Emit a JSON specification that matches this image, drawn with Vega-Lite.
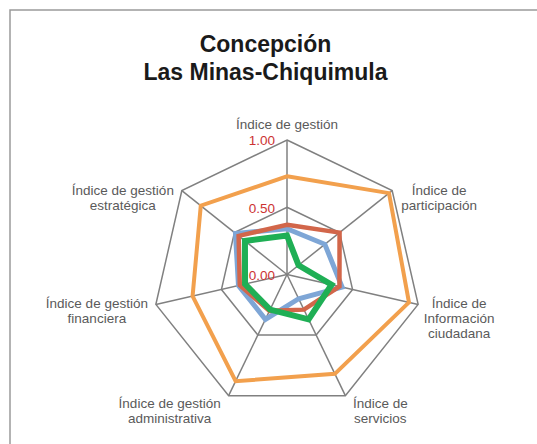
{
  "$schema": "https://vega.github.io/schema/vega-lite/v6.json",
  "width": 537,
  "height": 444,
  "autosize": {"type": "none"},
  "padding": {"left": 10, "top": 10, "right": 0, "bottom": 0},
  "background": "white",
  "config": {"view": {"stroke": "#9a9a9a", "strokeWidth": 1.5}},
  "title": {
    "text": ["Concepción", "Las Minas-Chiquimula"],
    "font": "Liberation Sans",
    "fontSize": 23,
    "fontWeight": "bold",
    "color": "#1a1a1a",
    "anchor": "middle",
    "frame": "group",
    "baseline": "top",
    "offset": -75,
    "dx": -13,
    "lineHeight": 28
  },
  "datasets": {
    "series": [
      {"serie": "Serie 2", "indicador": "Índice de gestión", "valor": 0.34},
      {"serie": "Serie 2", "indicador": "Índice de participación", "valor": 0.36},
      {"serie": "Serie 2", "indicador": "Índice de Información ciudadana", "valor": 0.42},
      {"serie": "Serie 2", "indicador": "Índice de servicios", "valor": 0.20},
      {"serie": "Serie 2", "indicador": "Índice de gestión administrativa", "valor": 0.37},
      {"serie": "Serie 2", "indicador": "Índice de gestión financiera", "valor": 0.37},
      {"serie": "Serie 2", "indicador": "Índice de gestión estratégica", "valor": 0.49},
      {"serie": "Serie 3", "indicador": "Índice de gestión", "valor": 0.37},
      {"serie": "Serie 3", "indicador": "Índice de participación", "valor": 0.50},
      {"serie": "Serie 3", "indicador": "Índice de Información ciudadana", "valor": 0.40},
      {"serie": "Serie 3", "indicador": "Índice de servicios", "valor": 0.29},
      {"serie": "Serie 3", "indicador": "Índice de gestión administrativa", "valor": 0.30},
      {"serie": "Serie 3", "indicador": "Índice de gestión financiera", "valor": 0.36},
      {"serie": "Serie 3", "indicador": "Índice de gestión estratégica", "valor": 0.46},
      {"serie": "Serie 1", "indicador": "Índice de gestión", "valor": 0.73},
      {"serie": "Serie 1", "indicador": "Índice de participación", "valor": 0.97},
      {"serie": "Serie 1", "indicador": "Índice de Información ciudadana", "valor": 0.93},
      {"serie": "Serie 1", "indicador": "Índice de servicios", "valor": 0.82},
      {"serie": "Serie 1", "indicador": "Índice de gestión administrativa", "valor": 0.88},
      {"serie": "Serie 1", "indicador": "Índice de gestión financiera", "valor": 0.72},
      {"serie": "Serie 1", "indicador": "Índice de gestión estratégica", "valor": 0.82},
      {"serie": "Serie 4", "indicador": "Índice de gestión", "valor": 0.29},
      {"serie": "Serie 4", "indicador": "Índice de participación", "valor": 0.11},
      {"serie": "Serie 4", "indicador": "Índice de Información ciudadana", "valor": 0.34},
      {"serie": "Serie 4", "indicador": "Índice de servicios", "valor": 0.37},
      {"serie": "Serie 4", "indicador": "Índice de gestión administrativa", "valor": 0.29},
      {"serie": "Serie 4", "indicador": "Índice de gestión financiera", "valor": 0.32},
      {"serie": "Serie 4", "indicador": "Índice de gestión estratégica", "valor": 0.40}
    ],
    "ejes": [
      {"indicador": "Índice de gestión", "etiqueta": "Índice de gestión"},
      {"indicador": "Índice de participación", "etiqueta": "Índice de\nparticipación"},
      {"indicador": "Índice de Información ciudadana", "etiqueta": "Índice de\nInformación\nciudadana"},
      {"indicador": "Índice de servicios", "etiqueta": "Índice de\nservicios"},
      {"indicador": "Índice de gestión administrativa", "etiqueta": "Índice de gestión\nadministrativa"},
      {"indicador": "Índice de gestión financiera", "etiqueta": "Índice de gestión\nfinanciera"},
      {"indicador": "Índice de gestión estratégica", "etiqueta": "Índice de gestión\nestratégica"}
    ],
    "anillos": [
      {"nivel": 0.5, "indicador": "Índice de gestión"},
      {"nivel": 0.5, "indicador": "Índice de participación"},
      {"nivel": 0.5, "indicador": "Índice de Información ciudadana"},
      {"nivel": 0.5, "indicador": "Índice de servicios"},
      {"nivel": 0.5, "indicador": "Índice de gestión administrativa"},
      {"nivel": 0.5, "indicador": "Índice de gestión financiera"},
      {"nivel": 0.5, "indicador": "Índice de gestión estratégica"},
      {"nivel": 1, "indicador": "Índice de gestión"},
      {"nivel": 1, "indicador": "Índice de participación"},
      {"nivel": 1, "indicador": "Índice de Información ciudadana"},
      {"nivel": 1, "indicador": "Índice de servicios"},
      {"nivel": 1, "indicador": "Índice de gestión administrativa"},
      {"nivel": 1, "indicador": "Índice de gestión financiera"},
      {"nivel": 1, "indicador": "Índice de gestión estratégica"}
    ],
    "niveles": [{"nivel": 0}, {"nivel": 0.5}, {"nivel": 1}]
  },
  "layer": [
    {
      "data": {"name": "anillos"},
      "transform": [
        {"calculate": "indexof(['Índice de gestión','Índice de participación','Índice de Información ciudadana','Índice de servicios','Índice de gestión administrativa','Índice de gestión financiera','Índice de gestión estratégica'], datum.indicador)", "as": "k"},
        {"calculate": "datum.nivel*sin(datum.k*2*PI/7)", "as": "px"},
        {"calculate": "datum.nivel*cos(datum.k*2*PI/7)", "as": "py"}
      ],
      "mark": {"type": "line", "interpolate": "linear-closed", "stroke": "#808080", "strokeWidth": 1.5},
      "encoding": {
        "x": {"field": "px", "type": "quantitative", "axis": null, "scale": {"domain": [-2.0595, 1.9331], "nice": false, "zero": false}},
        "y": {"field": "py", "type": "quantitative", "axis": null, "scale": {"domain": [-1.3346, 1.9665], "nice": false, "zero": false}},
        "detail": {"field": "nivel", "type": "nominal"},
        "order": {"field": "k", "type": "quantitative"}
      }
    },
    {
      "data": {"name": "ejes"},
      "transform": [
        {"calculate": "indexof(['Índice de gestión','Índice de participación','Índice de Información ciudadana','Índice de servicios','Índice de gestión administrativa','Índice de gestión financiera','Índice de gestión estratégica'], datum.indicador)", "as": "k"},
        {"calculate": "sin(datum.k*2*PI/7)", "as": "vx"},
        {"calculate": "cos(datum.k*2*PI/7)", "as": "vy"}
      ],
      "mark": {"type": "rule", "stroke": "#808080", "strokeWidth": 1.5},
      "encoding": {
        "x": {"field": "vx", "type": "quantitative", "axis": null, "scale": {"domain": [-2.0595, 1.9331], "nice": false, "zero": false}},
        "y": {"field": "vy", "type": "quantitative", "axis": null, "scale": {"domain": [-1.3346, 1.9665], "nice": false, "zero": false}},
        "x2": {"datum": 0},
        "y2": {"datum": 0}
      }
    },
    {
      "data": {"name": "series"},
      "transform": [
        {"calculate": "indexof(['Índice de gestión','Índice de participación','Índice de Información ciudadana','Índice de servicios','Índice de gestión administrativa','Índice de gestión financiera','Índice de gestión estratégica'], datum.indicador)", "as": "k"},
        {"calculate": "datum.valor*sin(datum.k*2*PI/7)", "as": "px"},
        {"calculate": "datum.valor*cos(datum.k*2*PI/7)", "as": "py"}
      ],
      "mark": {"type": "line", "interpolate": "linear-closed"},
      "encoding": {
        "x": {"field": "px", "type": "quantitative", "axis": null, "scale": {"domain": [-2.0595, 1.9331], "nice": false, "zero": false}},
        "y": {"field": "py", "type": "quantitative", "axis": null, "scale": {"domain": [-1.3346, 1.9665], "nice": false, "zero": false}},
        "color": {"field": "serie", "type": "nominal", "legend": null, "scale": {"domain": ["Serie 2", "Serie 3", "Serie 1", "Serie 4"], "range": ["#7EA6D6", "#D2664A", "#F2A04D", "#1FAF55"]}},
        "strokeWidth": {"field": "serie", "type": "ordinal", "legend": null, "scale": {"type": "ordinal", "domain": ["Serie 2", "Serie 3", "Serie 1", "Serie 4"], "range": [5, 4.5, 4, 6]}},
        "order": {"field": "k", "type": "quantitative"}
      }
    },
    {
      "data": {"name": "niveles"},
      "mark": {"type": "text", "align": "right", "baseline": "middle", "dx": -12, "dy": 1.5, "font": "Liberation Sans", "fontSize": 13.5, "color": "#cc3333"},
      "encoding": {
        "x": {"datum": 0, "type": "quantitative", "scale": {"domain": [-2.0595, 1.9331], "nice": false, "zero": false}},
        "y": {"field": "nivel", "type": "quantitative", "scale": {"domain": [-1.3346, 1.9665], "nice": false, "zero": false}},
        "text": {"field": "nivel", "type": "quantitative", "format": ".2f"}
      }
    },
    {
      "data": {"name": "ejes"},
      "transform": [
        {"calculate": "indexof(['Índice de gestión','Índice de participación','Índice de Información ciudadana','Índice de servicios','Índice de gestión administrativa','Índice de gestión financiera','Índice de gestión estratégica'], datum.indicador)", "as": "k"},
        {"calculate": "sin(datum.k*2*PI/7)", "as": "vx"},
        {"calculate": "cos(datum.k*2*PI/7)", "as": "vy"},
        {"calculate": "abs(datum.vx) < 0.1 ? 0 : (datum.vx > 0 ? 1 : -1)", "as": "lado"},
        {"calculate": "split(datum.etiqueta, '\\n')", "as": "lineas"},
        {"calculate": "6.0*max(length(datum.lineas[0]), length(datum.lineas[1] || ''), length(datum.lineas[2] || ''))", "as": "ancho"},
        {"calculate": "datum.vx + datum.lado*(datum.ancho/2 + 8)/134.5", "as": "lx"},
        {"calculate": "datum.vy - (datum.vy > 0.9 ? -14.5 : (datum.vy < -0.8 ? 8.5 : 0))/134.5", "as": "ly"}
      ],
      "mark": {"type": "text", "align": "center", "baseline": "middle", "lineBreak": "\n", "lineHeight": 15, "font": "Liberation Sans", "fontSize": 13.5, "color": "#5a5a5a"},
      "encoding": {
        "x": {"field": "lx", "type": "quantitative", "scale": {"domain": [-2.0595, 1.9331], "nice": false, "zero": false}},
        "y": {"field": "ly", "type": "quantitative", "scale": {"domain": [-1.3346, 1.9665], "nice": false, "zero": false}},
        "text": {"field": "etiqueta", "type": "nominal"}
      }
    }
  ]
}
